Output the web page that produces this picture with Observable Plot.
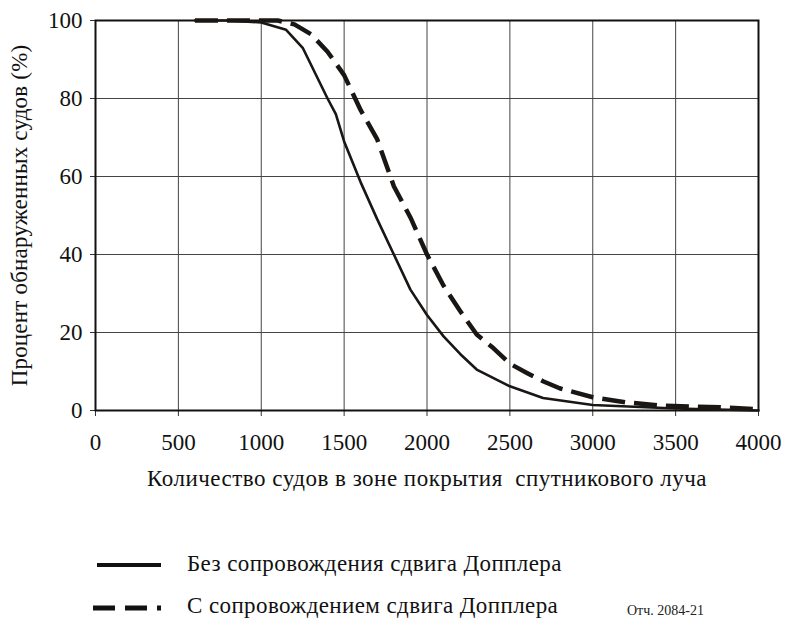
<!DOCTYPE html>
<html>
<head>
<meta charset="utf-8">
<script src="https://cdn.jsdelivr.net/npm/d3@7"></script>
<script src="https://cdn.jsdelivr.net/npm/@observablehq/plot@0.6"></script>
<style>
  html, body { margin: 0; padding: 0; background: #fff; }
  #wrap { position: relative; width: 790px; height: 619px; overflow: hidden; font-family: "Liberation Serif", "DejaVu Serif", serif; }
  #legend { position: absolute; left: 0; top: 0; width: 790px; height: 619px; pointer-events: none; }
  .lg { position: absolute; font-size: 23px; line-height: 26px; letter-spacing: 0.4px; color: #111; white-space: nowrap; }
  .note { position: absolute; font-size: 14px; line-height: 15px; color: #222; white-space: nowrap; }
  g[aria-label="x-axis label"] text { letter-spacing: 0.5px; }
  g[aria-label="y-axis label"] text { letter-spacing: 0.2px; }
</style>
</head>
<body>
<div id="wrap"><div id="chart"></div><div id="legend"></div></div>
<script>
// Data
const shipsNoTracking = [600, 800, 1000, 1150, 1250, 1400, 1450, 1500, 1600, 1700, 1800, 1900, 2000, 2100, 2200, 2300, 2500, 2700, 3000, 3500, 4000];
const pctNoTracking   = [100, 100, 99.5, 97.6, 93, 80, 76, 69, 58.5, 49, 40, 31, 24.5, 19, 14.5, 10.5, 6.2, 3.2, 1.4, 0.5, 0];
const shipsTracking = [600, 800, 1000, 1100, 1200, 1300, 1400, 1450, 1500, 1600, 1700, 1800, 1900, 2000, 2100, 2200, 2300, 2400, 2500, 2600, 2700, 2800, 3000, 3200, 3400, 3600, 3800, 4000];
const pctTracking   = [100, 100, 100, 100, 99, 96.5, 92, 89, 86, 77, 69.5, 57.5, 49.5, 40, 32, 25.5, 19.5, 16, 12, 9.7, 7.5, 5.7, 3.4, 2.1, 1.3, 1, 0.8, 0.3];
const xTicks = [0, 500, 1000, 1500, 2000, 2500, 3000, 3500, 4000];
const yTicks = [0, 20, 40, 60, 80, 100];
const xTitle = "Количество судов в зоне покрытия  спутникового луча";
const yTitle = "Процент обнаруженных судов (%)";
const seriesNames = ["Без сопровождения сдвига Допплера", "С сопровождением сдвига Допплера"];
const noteText = "Отч. 2084-21";

const solid = shipsNoTracking.map((x, i) => ({x, y: pctNoTracking[i]}));
const dashed = shipsTracking.map((x, i) => ({x, y: pctTracking[i]}));

const FONT = "'Liberation Serif', 'DejaVu Serif', serif";

const chart = Plot.plot({
  width: 790,
  height: 500,
  marginLeft: 95,
  marginRight: 32,
  marginTop: 20,
  marginBottom: 90,
  style: {fontFamily: FONT, fontSize: "23px", color: "#111", background: "#fff"},
  x: {domain: [0, 4000]},
  y: {domain: [0, 100]},
  marks: [
    Plot.gridX(xTicks, {stroke: "#444", strokeOpacity: 1, strokeWidth: 1}),
    Plot.gridY(yTicks, {stroke: "#444", strokeOpacity: 1, strokeWidth: 1}),
    Plot.axisX({ticks: xTicks, tickFormat: d => String(d), tickSize: 6, tickPadding: 17, fontSize: 23, label: xTitle, labelAnchor: "center", labelOffset: 75, labelArrow: "none", stroke: "#333"}),
    Plot.axisY({ticks: yTicks, tickFormat: d => String(d), tickSize: 5, tickPadding: 8, fontSize: 23, label: yTitle, labelAnchor: "center", labelOffset: 85, labelArrow: "none", stroke: "#333"}),
    Plot.frame({stroke: "#111", strokeWidth: 2}),
    Plot.line(solid, {x: "x", y: "y", stroke: "#1a1614", strokeWidth: 2.6, strokeLinejoin: "miter"}),
    Plot.line(dashed, {x: "x", y: "y", stroke: "#1a1614", strokeWidth: 4.5, strokeDasharray: "23,9", strokeLinecap: "butt"})
  ]
});
document.getElementById("chart").appendChild(chart);

// Legend below the chart
const lg = d3.select("#legend");
const sw = lg.append("svg").attr("width", 790).attr("height", 619).style("position", "absolute").style("left", 0).style("top", 0);
sw.append("line").attr("x1", 97).attr("x2", 161).attr("y1", 565).attr("y2", 565).attr("stroke", "#111").attr("stroke-width", 4);
sw.append("line").attr("x1", 93).attr("x2", 161).attr("y1", 608).attr("y2", 608).attr("stroke", "#111").attr("stroke-width", 5).attr("stroke-dasharray", "22,10");
lg.append("div").attr("class", "lg").style("left", "187px").style("top", "551px").text(seriesNames[0]);
lg.append("div").attr("class", "lg").style("left", "187px").style("top", "593px").text(seriesNames[1]);
lg.append("div").attr("class", "note").style("left", "627px").style("top", "603px").text(noteText);
</script>
</body>
</html>
